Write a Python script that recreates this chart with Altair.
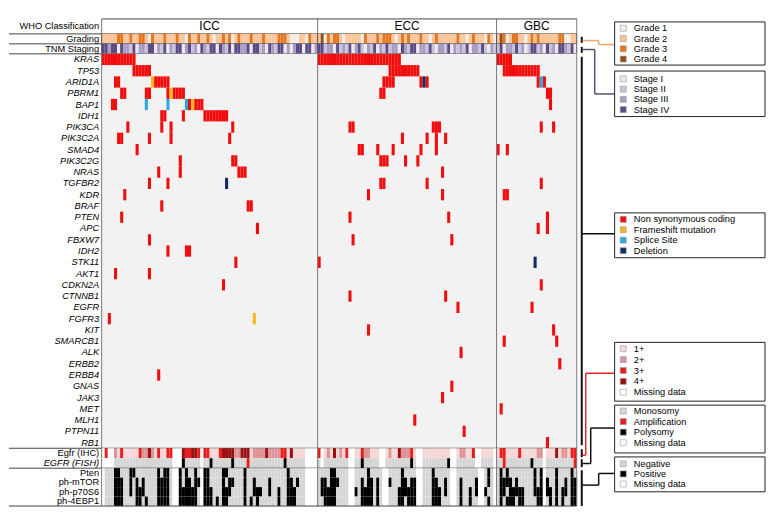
import altair as alt
import pandas as pd

# ---------------- data ----------------
GROUPS = ["ICC", "ECC", "GBC"]
GROUP_SIZES = [70, 58, 26]
N = sum(GROUP_SIZES)

GENES = ["KRAS", "TP53", "ARID1A", "PBRM1", "BAP1", "IDH1", "PIK3CA", "PIK3C2A",
         "SMAD4", "PIK3C2G", "NRAS", "TGFBR2", "KDR", "BRAF", "PTEN", "APC", "FBXW7",
         "IDH2", "STK11", "AKT1", "CDKN2A", "CTNNB1", "EGFR", "FGFR3", "KIT", "SMARCB1",
         "ALK", "ERBB2", "ERBB4", "GNAS", "JAK3", "MET", "MLH1", "PTPN11", "RB1"]

# sample (column) indices carrying a non-synonymous coding mutation, per gene
NONSYN = {
    "KRAS": list(range(0, 11)) + list(range(70, 97)) + list(range(128, 133)),
    "TP53": list(range(10, 16)) + list(range(93, 103)) + list(range(130, 142)),
    "ARID1A": [4, 5, 17, 18, 19, 20, 21, 91, 92, 93, 94, 103, 105, 141, 143],
    "PBRM1": [6, 7, 14, 15, 21, 23, 24, 25, 26, 90, 91, 144, 145],
    "BAP1": [3, 4, 28, 30, 31, 32, 145],
    "IDH1": [19, 20, 26, 33, 34, 35, 36, 37, 38, 39, 40],
    "PIK3CA": [8, 19, 22, 42, 80, 81, 107, 108, 109, 142, 146],
    "PIK3C2A": [5, 6, 15, 22, 41, 97, 105, 108, 111],
    "SMAD4": [11, 83, 84, 89, 94, 103, 108, 128, 131],
    "PIK3C2G": [25, 42, 43, 90, 91, 92, 98, 102],
    "NRAS": [18, 25, 44, 45, 46, 110],
    "TGFBR2": [15, 21, 90, 91, 105, 142],
    "KDR": [7, 86, 110, 130, 131],
    "BRAF": [19, 47, 48],
    "PTEN": [6, 80, 112, 144],
    "APC": [50, 141, 144],
    "FBXW7": [15, 81, 113],
    "IDH2": [21, 27, 28],
    "STK11": [43, 70],
    "AKT1": [4, 15],
    "CDKN2A": [39, 142],
    "CTNNB1": [80, 111],
    "EGFR": [115, 139],
    "FGFR3": [2],
    "KIT": [86, 146],
    "SMARCB1": [130, 147],
    "ALK": [116],
    "ERBB2": [148],
    "ERBB4": [18],
    "GNAS": [113],
    "JAK3": [110],
    "MET": [129],
    "MLH1": [101],
    "PTPN11": [117],
    "RB1": [144],
}
FRAMESHIFT = [("ARID1A", 16), ("PBRM1", 22), ("BAP1", 29), ("FGFR3", 49)]
SPLICE = [("BAP1", 14), ("BAP1", 21), ("BAP1", 27), ("ARID1A", 142)]
DELETION = [("TGFBR2", 40), ("ARID1A", 104), ("STK11", 140)]

MUT_TYPES = ["Non synonymous coding", "Frameshift mutation", "Splice Site", "Deletion"]
MUT_COLORS = ["#f20d0d", "#f6b91c", "#27a9e1", "#142a63"]

# grading (default grade 2)
GRADE_LABELS = ["Grade 1", "Grade 2", "Grade 3", "Grade 4"]
GRADE_COLORS = ["#f4ede7", "#fcc497", "#e5761c", "#93501c"]
GRADE_1 = [15, 27, 36, 42, 61, 62, 63, 66, 72, 78, 84, 95, 106, 118, 124, 127, 131, 137, 150, 151]
GRADE_3 = [5, 6, 9, 12, 13, 16, 20, 24, 28, 31, 34, 39, 41, 44, 48, 52, 57, 58, 59, 67,
           73, 75, 76, 85, 89, 91, 92, 93, 97, 99, 103, 108, 115, 120, 125, 130, 133, 134,
           139, 141, 148, 149]
GRADE_4 = [71, 129]

# TNM staging (default stage II)
STAGE_LABELS = ["Stage I", "Stage II", "Stage III", "Stage IV"]
STAGE_COLORS = ["#ece9f1", "#c9c3da", "#a89cc6", "#5c4b86"]
STAGE_I = [5, 11, 17, 21, 26, 31, 37, 42, 48, 53, 59, 61, 65, 68, 75, 81, 85, 89, 96, 102,
           108, 113, 119, 125, 130, 137, 143, 147, 153]
STAGE_III = [2, 7, 8, 12, 13, 18, 22, 27, 30, 33, 39, 45, 46, 52, 55, 60, 62, 69, 73, 74,
             78, 82, 86, 90, 94, 95, 98, 103, 104, 109, 110, 114, 116, 120, 121, 126, 131,
             132, 136, 142, 146, 150]
STAGE_IV = [0, 1, 3, 4, 6, 10, 15, 16, 20, 24, 25, 28, 32, 35, 36, 38, 41, 43, 44, 47, 49,
            50, 54, 57, 58, 63, 64, 66, 67, 70, 71, 76, 80, 83, 88, 92, 97, 100, 101, 106,
            112, 118, 123, 129, 134, 139, 140, 144, 148, 149, 152]

# Egfr IHC (default 1+)
IHC_LABELS = ["1+", "2+", "3+", "4+", "Missing data"]
IHC_COLORS = ["#f7d6d6", "#dc9494", "#ec1c1c", "#9a0f0f", "#ffffff"]
IHC_2 = [4, 13, 14, 16, 43, 44, 49, 50, 51, 52, 54, 55, 56, 57, 73, 77, 85, 86, 93, 97,
         98, 99, 116, 117, 141, 142, 149, 150]
IHC_3 = [1, 6, 12, 18, 21, 22, 27, 28, 31, 33, 34, 38, 58, 59, 70, 79, 84, 100, 120, 129,
         130, 135, 152, 153]
IHC_4 = [15, 26, 29, 30, 39, 40, 41, 42, 45, 46, 47, 53, 61, 75, 96, 147]
IHC_MISSING = [0, 2, 3, 23, 24, 25, 32, 66, 67, 68, 69, 71, 80, 81, 90, 91, 102, 103, 113,
               114, 121, 122, 127, 143]

# EGFR FISH (default monosomy)
FISH_LABELS = ["Monosomy", "Amplification", "Polysomy", "Missing data"]
FISH_COLORS = ["#d5d5d5", "#ec1c1c", "#000000", "#ffffff"]
FISH_AMP = [47, 130, 153]
FISH_POLY = [26, 35, 42, 59, 84, 100, 112, 139]
FISH_MISSING = [0, 1, 2, 3, 23, 24, 25, 32, 66, 67, 68, 69, 71, 80, 81, 90, 91, 102, 103,
                113, 114, 121, 122, 127, 143]

# mTOR pathway IHC (default negative)
MTOR_ROWS = ["Pten", "ph-mTOR", "ph-p70S6", "ph-4EBP1"]
MTOR_LABELS = ["Negative", "Positive", "Missing data"]
MTOR_COLORS = ["#d5d5d5", "#000000", "#ffffff"]
MTOR_MISSING = [0, 23, 24, 32, 66, 67, 68, 69, 80, 81, 91, 92, 102, 103, 113, 114, 122,
                123, 127, 143]
PTEN_POS = [4, 5, 9, 10, 18, 20, 21, 25, 27, 30, 33, 34, 39, 40, 46, 60, 74, 75, 86, 97,
            107, 125, 129, 131, 140, 142, 147, 152]
MTORP_POS = [4, 5, 6, 9, 11, 13, 18, 19, 20, 21, 25, 27, 28, 30, 31, 33, 34, 39, 41, 42,
             46, 49, 54, 60, 61, 63, 71, 72, 74, 75, 76, 84, 86, 87, 89, 93, 97, 98, 100,
             101, 107, 108, 111, 116, 121, 125, 129, 130, 131, 132, 134, 140, 142, 144,
             147, 150, 152, 153]
P70_POS = [4, 5, 6, 9, 11, 12, 13, 18, 19, 20, 21, 25, 26, 27, 28, 29, 30, 33, 34, 35, 39,
           40, 41, 46, 49, 50, 51, 54, 57, 60, 61, 62, 71, 72, 73, 74, 75, 82, 84, 85, 86,
           87, 89, 96, 97, 98, 99, 100, 101, 107, 108, 109, 111, 116, 119, 121, 124, 129,
           130, 132, 133, 134, 135, 136, 140, 141, 142, 144, 145, 147, 149, 150, 152, 153]
EBP1_POS = [4, 5, 6, 11, 12, 14, 18, 19, 20, 21, 25, 26, 27, 28, 29, 30, 33, 34, 35, 37,
            39, 40, 46, 48, 50, 57, 60, 61, 62, 72, 73, 74, 75, 84, 85, 86, 87, 89, 96, 97,
            99, 100, 101, 107, 108, 109, 116, 119, 125, 129, 131, 132, 133, 135, 136, 141,
            142, 145, 147, 149, 152, 153]

# ---------------- layout helpers ----------------
W = 477
LEFT = 93
FONT = "Liberation Sans"
H_HDR, H_GRADE, H_STAGE, H_GENES, H_IHC, H_FISH, H_MTOR = 15, 10, 10, 396, 10, 10, 38

XS = alt.Scale(domain=[0, N], nice=False, zero=False)
BOUNDS = [0]
for s in GROUP_SIZES:
    BOUNDS.append(BOUNDS[-1] + s)
bounds_df = pd.DataFrame({"b": BOUNDS})
ONE = pd.DataFrame({"k": [0]})


def yaxis(italic=False):
    return alt.Axis(title=None, ticks=False, domain=False, labelPadding=3,
                    labelFontSize=9.3, labelFont=FONT, labelColor="black",
                    labelFontStyle="italic" if italic else "normal", labelLimit=140)


def yscale(domain):
    return alt.Scale(domain=domain, paddingInner=0, paddingOuter=0)


def vrules(color="#7a7a7a"):
    return alt.Chart(bounds_df).mark_rule(color=color, strokeWidth=1).encode(
        x=alt.X("b:Q", scale=XS, axis=None))


def hline(y, x0=-LEFT, x1=W, color="#444", width=1):
    return alt.Chart(ONE).mark_rule(color=color, strokeWidth=width).encode(
        x=alt.value(x0), x2=alt.value(x1), y=alt.value(y))


def vline(x, y0, y1, color="#111", width=1):
    return alt.Chart(ONE).mark_rule(color=color, strokeWidth=width).encode(
        x=alt.value(x), y=alt.value(y0), y2=alt.value(y1))


def box(x0, x1, y0, y1):
    return alt.Chart(ONE).mark_rect(fill="white", stroke="#222", strokeWidth=1).encode(
        x=alt.value(x0), x2=alt.value(x1), y=alt.value(y0), y2=alt.value(y1))


def legend(lx, ly, rp=0.3):
    return alt.Legend(title=None, orient="none", legendX=lx, legendY=ly,
                      labelFontSize=9.3, labelFont=FONT, labelColor="black",
                      symbolType="square", symbolSize=36, symbolStrokeColor="#999",
                      symbolStrokeWidth=0.6, rowPadding=rp, padding=0, labelOffset=6,
                      labelLimit=200)


def row_values(default, overrides):
    vals = [default] * N
    for lab, cols in overrides:
        for c in cols:
            vals[c] = lab
    return vals


BX0, BX1 = 515, 666   # legend box edges (relative to plot origin)
LX = 519              # legend symbol left
TX = 482              # bracket tick x

# ---------------- header ----------------
hdr_df = pd.DataFrame({"c": BOUNDS[:-1], "c2": BOUNDS[1:], "g": GROUPS,
                       "row": "WHO Classification",
                       "m": [(a + b) / 2 for a, b in zip(BOUNDS[:-1], BOUNDS[1:])]})
hdr = alt.layer(
    alt.Chart(hdr_df).mark_rect(fill="white").encode(
        x=alt.X("c:Q", scale=XS, axis=None), x2="c2",
        y=alt.Y("row:N", scale=yscale(["WHO Classification"]), axis=yaxis())),
    alt.Chart(hdr_df).mark_text(fontSize=12, font=FONT, color="black", baseline="middle").encode(
        x=alt.X("m:Q", scale=XS, axis=None), y=alt.Y("row:N"), text="g:N"),
    vrules(),
    hline(0, 0, W),
    hline(H_HDR),
).properties(width=W, height=H_HDR)

# ---------------- grading ----------------
grade_df = pd.DataFrame({"c": range(N), "c2": range(1, N + 1), "row": "Grading",
                         "v": row_values("Grade 2", [("Grade 1", GRADE_1), ("Grade 3", GRADE_3),
                                                     ("Grade 4", GRADE_4)])})
grade = alt.layer(
    alt.Chart(grade_df).mark_rect().encode(
        x=alt.X("c:Q", scale=XS, axis=None), x2="c2",
        y=alt.Y("row:N", scale=yscale(["Grading"]), axis=yaxis()),
        color=alt.Color("v:N", scale=alt.Scale(domain=GRADE_LABELS, range=GRADE_COLORS),
                        legend=legend(LX, -10.3))),
    vrules("#555"),
    hline(H_GRADE),
    vline(TX, 3, 9, "#111", 2),
    hline(6.7, TX + 1, 499, "#f3a566", 1.5),
    vline(499, 6.7, 10.7, "#f3a566", 1.5),
    hline(10.7, 499, BX0, "#f3a566", 1.5),
    box(BX0, BX1, -12, 31.3),
).properties(width=W, height=H_GRADE)

# ---------------- staging ----------------
stage_df = pd.DataFrame({"c": range(N), "c2": range(1, N + 1), "row": "TNM Staging",
                         "v": row_values("Stage II", [("Stage I", STAGE_I), ("Stage III", STAGE_III),
                                                      ("Stage IV", STAGE_IV)])})
stage = alt.layer(
    alt.Chart(stage_df).mark_rect().encode(
        x=alt.X("c:Q", scale=XS, axis=None), x2="c2",
        y=alt.Y("row:N", scale=yscale(["TNM Staging"]), axis=yaxis()),
        color=alt.Color("v:N", scale=alt.Scale(domain=STAGE_LABELS, range=STAGE_COLORS),
                        legend=legend(LX, 30.5))),
    vrules("#555"),
    hline(H_STAGE),
    vline(TX, 3, 9, "#111", 2),
    hline(5.7, TX + 1, 495, "#55556e", 1.5),
    vline(495, 5.7, 50.3, "#55556e", 1.5),
    hline(50.3, 495, BX0, "#55556e", 1.5),
    box(BX0, BX1, 27.3, 73),
).properties(width=W, height=H_STAGE)

# ---------------- mutations ----------------
mut_rows = []
for g, cols in NONSYN.items():
    for c in cols:
        mut_rows.append({"gene": g, "c": c, "c2": c + 1, "t": MUT_TYPES[0]})
for lst, t in [(FRAMESHIFT, MUT_TYPES[1]), (SPLICE, MUT_TYPES[2]), (DELETION, MUT_TYPES[3])]:
    for g, c in lst:
        mut_rows.append({"gene": g, "c": c, "c2": c + 1, "t": t})
mut_df = pd.DataFrame(mut_rows)

genes = alt.layer(
    alt.Chart(hdr_df).mark_rect(fill="#f2f2f2").encode(
        x=alt.X("c:Q", scale=XS, axis=None), x2="c2", y=alt.value(0), y2=alt.value(H_GENES)),
    alt.Chart(mut_df).mark_rect().encode(
        x=alt.X("c:Q", scale=XS, axis=None), x2="c2",
        y=alt.Y("gene:N", scale=yscale(GENES), axis=yaxis(True)),
        color=alt.Color("t:N", scale=alt.Scale(domain=MUT_TYPES, range=MUT_COLORS),
                        legend=legend(LX, 161.5, 0.5))),
    vrules(),
    hline(H_GENES),
    vline(TX, 3, 393, "#111", 2),
    hline(180.7, TX, BX0, "#111", 1.5),
    box(BX0, BX1, 159.7, 204.7),
).properties(width=W, height=H_GENES)

# ---------------- Egfr IHC ----------------
ihc_df = pd.DataFrame({"c": range(N), "c2": range(1, N + 1), "row": "Egfr (IHC)",
                       "v": row_values("1+", [("2+", IHC_2), ("3+", IHC_3), ("4+", IHC_4),
                                              ("Missing data", IHC_MISSING)])})
ihc = alt.layer(
    alt.Chart(ihc_df).mark_rect().encode(
        x=alt.X("c:Q", scale=XS, axis=None), x2="c2",
        y=alt.Y("row:N", scale=yscale(["Egfr (IHC)"]), axis=yaxis()),
        color=alt.Color("v:N", scale=alt.Scale(domain=IHC_LABELS, range=IHC_COLORS),
                        legend=legend(LX, -104.5, 0.9))),
    vrules(),
    vline(TX, 1, 9, "#111", 2),
    hline(7, TX + 1, 486, "#e82626", 1.5),
    vline(486, 7, -75.3, "#e82626", 1.5),
    hline(-75.3, 486, BX0, "#e82626", 1.5),
    box(BX0, BX1, -106.3, -47.3),
).properties(width=W, height=H_IHC)

# ---------------- EGFR FISH ----------------
fish_df = pd.DataFrame({"c": range(N), "c2": range(1, N + 1), "row": "EGFR (FISH)",
                        "v": row_values("Monosomy", [("Amplification", FISH_AMP),
                                                     ("Polysomy", FISH_POLY),
                                                     ("Missing data", FISH_MISSING)])})
fish = alt.layer(
    alt.Chart(fish_df).mark_rect().encode(
        x=alt.X("c:Q", scale=XS, axis=None), x2="c2",
        y=alt.Y("row:N", scale=yscale(["EGFR (FISH)"]), axis=yaxis(True)),
        color=alt.Color("v:N", scale=alt.Scale(domain=FISH_LABELS, range=FISH_COLORS),
                        legend=legend(LX, -52.0, 0.6))),
    vrules(),
    hline(H_FISH),
    vline(TX, 1, 9, "#111", 2),
    hline(5.3, TX + 1, 491, "#111", 1.5),
    vline(491, 5.3, -30.3, "#111", 1.5),
    hline(-30.3, 491, BX0, "#111", 1.5),
    box(BX0, BX1, -53.3, -5.3),
).properties(width=W, height=H_FISH)

# ---------------- mTOR pathway ----------------
mtor_rows = []
for name, pos in zip(MTOR_ROWS, [PTEN_POS, MTORP_POS, P70_POS, EBP1_POS]):
    vals = row_values("Negative", [("Positive", pos), ("Missing data", MTOR_MISSING)])
    for c in range(N):
        mtor_rows.append({"c": c, "c2": c + 1, "row": name, "v": vals[c]})
mtor_df = pd.DataFrame(mtor_rows)
mtor = alt.layer(
    alt.Chart(mtor_df).mark_rect().encode(
        x=alt.X("c:Q", scale=XS, axis=None), x2="c2",
        y=alt.Y("row:N", scale=yscale(MTOR_ROWS), axis=yaxis()),
        color=alt.Color("v:N", scale=alt.Scale(domain=MTOR_LABELS, range=MTOR_COLORS),
                        legend=legend(LX, -9, 0.1))),
    vrules(),
    hline(H_MTOR),
    vline(TX, 2, 38, "#111", 2),
    hline(17, TX, 499, "#111", 1.5),
    vline(499, 17, 5.3, "#111", 1.5),
    hline(5.3, 499, BX0, "#111", 1.5),
    box(BX0, BX1, -11.3, 23.7),
).properties(width=W, height=H_MTOR)

chart = alt.vconcat(hdr, grade, stage, genes, ihc, fish, mtor, spacing=0, bounds="flush") \
    .resolve_scale(color="independent", y="independent") \
    .properties(padding={"left": 0, "top": 9, "right": 5, "bottom": 5}) \
    .configure_view(stroke=None)

chart.save("out.html", embed_options={"renderer": "svg", "actions": False})
